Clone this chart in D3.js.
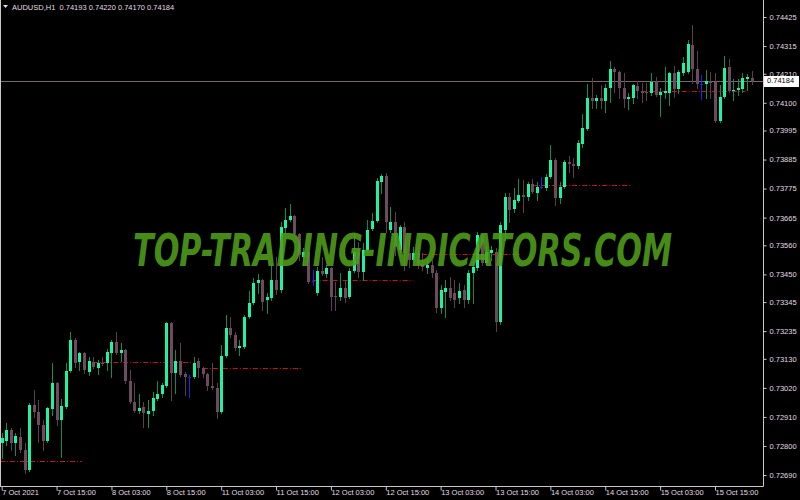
<!DOCTYPE html>
<html>
<head>
<meta charset="utf-8">
<script src="https://cdn.jsdelivr.net/npm/d3@7/dist/d3.min.js"></script>
<style>
html,body{margin:0;padding:0;background:#000;}
svg{display:block;}
</style>
</head>
<body>
<svg id="chart" width="800" height="500"></svg>
<script>
// ---------------- DATA ----------------
const symbol = "AUDUSD,H1";
const timeLabels = ["7 Oct 2021","7 Oct 15:00","8 Oct 03:00","8 Oct 15:00","11 Oct 03:00","11 Oct 15:00","12 Oct 03:00","12 Oct 15:00","13 Oct 03:00","13 Oct 15:00","14 Oct 03:00","14 Oct 15:00","15 Oct 03:00","15 Oct 15:00"];
const timeLabelBars = [0,12,24,36,48,60,72,84,96,108,120,132,144,156];
const priceTickLabels = ["0.74425","0.74315","0.74210","0.74100","0.73995","0.73885","0.73775","0.73665","0.73560","0.73450","0.73345","0.73235","0.73130","0.73020","0.72910","0.72800","0.72690"];

const opens = [0.72811,0.72819,0.72861,0.72811,0.72834,0.72785,0.72709,0.72955,0.72929,0.72880,
0.72819,0.72940,0.73039,0.72898,0.72948,0.73084,0.73202,0.73118,0.73152,0.73080,
0.73118,0.73095,0.73114,0.73114,0.73152,0.73194,0.73152,0.73164,0.73046,0.72967,
0.72933,0.72948,0.72921,0.72933,0.72978,0.72997,0.73027,0.73266,0.73076,0.73122,
0.73073,0.73061,0.73061,0.73122,0.73095,0.73073,0.73027,0.73020,0.72929,0.73141,
0.73247,0.73221,0.73171,0.73175,0.73289,0.73342,0.73417,0.73429,0.73353,0.73361,
0.73429,0.73391,0.73626,0.73656,0.73671,0.73603,0.73516,0.73535,0.73425,0.73380,
0.73463,0.73452,0.73474,0.73368,0.73364,0.73399,0.73364,0.73463,0.73535,0.73459,
0.73542,0.73622,0.73652,0.73800,0.73823,0.73618,0.73648,0.73542,0.73629,0.73531,
0.73505,0.73531,0.73489,0.73474,0.73486,0.73455,0.73323,0.73383,0.73399,0.73380,
0.73361,0.73391,0.73353,0.73455,0.73474,0.73599,0.73493,0.73531,0.73535,0.73270,
0.73618,0.73743,0.73698,0.73728,0.73751,0.73743,0.73792,0.73758,0.73781,0.73777,
0.73819,0.73883,0.73739,0.73781,0.73876,0.73868,0.73861,0.73944,0.74001,0.74118,
0.74107,0.74118,0.74107,0.74156,0.74228,0.74217,0.74156,0.74114,0.74118,0.74164,
0.74145,0.74141,0.74137,0.74179,0.74130,0.74137,0.74137,0.74213,0.74152,0.74213,
0.74217,0.74319,0.74228,0.74171,0.74171,0.74183,0.74179,0.74031,0.74122,0.74236,
0.74145,0.74148,0.74152,0.74190,0.74193];

const highs = [0.72849,0.72887,0.72868,0.72849,0.72868,0.72811,0.72963,0.73012,0.72974,0.72898,
0.72948,0.73114,0.73042,0.72978,0.73114,0.73232,0.73209,0.73156,0.73156,0.73137,
0.73137,0.73126,0.73137,0.73167,0.73202,0.73232,0.73190,0.73167,0.73088,0.73039,
0.72997,0.72967,0.72974,0.73005,0.73046,0.73039,0.73270,0.73270,0.73164,0.73190,
0.73080,0.73069,0.73137,0.73133,0.73099,0.73076,0.73114,0.73039,0.73183,0.73296,
0.73289,0.73232,0.73202,0.73296,0.73387,0.73436,0.73452,0.73433,0.73380,0.73486,
0.73516,0.73648,0.73701,0.73717,0.73675,0.73607,0.73550,0.73542,0.73467,0.73478,
0.73516,0.73486,0.73478,0.73421,0.73455,0.73429,0.73474,0.73607,0.73573,0.73569,
0.73656,0.73683,0.73815,0.73830,0.73834,0.73705,0.73686,0.73637,0.73648,0.73580,
0.73554,0.73561,0.73531,0.73505,0.73505,0.73467,0.73410,0.73429,0.73440,0.73429,
0.73417,0.73410,0.73467,0.73512,0.73611,0.73607,0.73554,0.73558,0.73550,0.73648,
0.73758,0.73758,0.73777,0.73811,0.73808,0.73800,0.73811,0.73800,0.73819,0.73830,
0.73940,0.73891,0.73800,0.73883,0.73898,0.73891,0.73959,0.74058,0.74171,0.74194,
0.74130,0.74167,0.74171,0.74258,0.74236,0.74220,0.74213,0.74137,0.74171,0.74183,
0.74175,0.74175,0.74213,0.74198,0.74156,0.74236,0.74217,0.74239,0.74224,0.74273,
0.74338,0.74395,0.74296,0.74205,0.74224,0.74217,0.74213,0.74167,0.74277,0.74266,
0.74190,0.74190,0.74213,0.74209,0.74220];

const lows = [0.72755,0.72804,0.72785,0.72766,0.72777,0.72698,0.72705,0.72910,0.72815,0.72785,
0.72815,0.72917,0.72880,0.72758,0.72944,0.73080,0.73099,0.73088,0.73076,0.73069,
0.73095,0.73073,0.73107,0.73088,0.73061,0.73148,0.73122,0.73039,0.72963,0.72929,
0.72925,0.72872,0.72872,0.72917,0.72974,0.72986,0.73024,0.72974,0.73001,0.73065,
0.72993,0.72986,0.73058,0.73061,0.73061,0.73012,0.73016,0.72906,0.72925,0.73137,
0.73213,0.73164,0.73145,0.73171,0.73285,0.73338,0.73380,0.73315,0.73304,0.73353,
0.73376,0.73383,0.73607,0.73652,0.73599,0.73505,0.73486,0.73417,0.73410,0.73372,
0.73448,0.73440,0.73315,0.73315,0.73353,0.73345,0.73361,0.73459,0.73440,0.73429,
0.73535,0.73618,0.73648,0.73758,0.73611,0.73611,0.73524,0.73535,0.73467,0.73478,
0.73497,0.73474,0.73467,0.73455,0.73440,0.73307,0.73304,0.73289,0.73353,0.73326,
0.73342,0.73326,0.73342,0.73342,0.73467,0.73486,0.73486,0.73505,0.73236,0.73262,
0.73580,0.73648,0.73686,0.73724,0.73686,0.73732,0.73758,0.73732,0.73777,0.73770,
0.73815,0.73713,0.73720,0.73777,0.73838,0.73819,0.73853,0.73933,0.73997,0.74080,
0.74080,0.74080,0.74065,0.74103,0.74141,0.74118,0.74084,0.74077,0.74099,0.74118,
0.74103,0.74111,0.74130,0.74126,0.74050,0.74118,0.74092,0.74122,0.74137,0.74205,
0.74213,0.74175,0.74156,0.74114,0.74118,0.74118,0.74027,0.74027,0.74118,0.74141,
0.74111,0.74130,0.74141,0.74148,0.74170];

const closes = [0.72830,0.72861,0.72811,0.72838,0.72785,0.72709,0.72955,0.72929,0.72880,0.72819,
0.72944,0.73039,0.72898,0.72952,0.73084,0.73202,0.73114,0.73152,0.73088,0.73122,
0.73099,0.73114,0.73111,0.73156,0.73194,0.73152,0.73164,0.73046,0.72967,0.72933,
0.72944,0.72925,0.72933,0.72982,0.72997,0.73031,0.73266,0.73076,0.73122,0.73069,
0.73061,0.73061,0.73114,0.73095,0.73073,0.73027,0.73020,0.72929,0.73141,0.73247,
0.73221,0.73171,0.73179,0.73289,0.73342,0.73417,0.73429,0.73345,0.73364,0.73429,
0.73391,0.73629,0.73656,0.73671,0.73603,0.73524,0.73535,0.73421,0.73425,0.73463,
0.73452,0.73474,0.73364,0.73364,0.73399,0.73361,0.73463,0.73535,0.73459,0.73542,
0.73618,0.73652,0.73804,0.73823,0.73648,0.73648,0.73554,0.73629,0.73531,0.73505,
0.73531,0.73489,0.73478,0.73486,0.73455,0.73323,0.73391,0.73399,0.73361,0.73353,
0.73387,0.73353,0.73455,0.73478,0.73599,0.73493,0.73535,0.73542,0.73270,0.73637,
0.73743,0.73694,0.73732,0.73751,0.73743,0.73792,0.73762,0.73781,0.73781,0.73819,
0.73883,0.73739,0.73781,0.73876,0.73868,0.73861,0.73948,0.74005,0.74118,0.74107,
0.74118,0.74107,0.74156,0.74228,0.74217,0.74156,0.74114,0.74122,0.74167,0.74145,
0.74137,0.74137,0.74179,0.74130,0.74141,0.74145,0.74213,0.74152,0.74217,0.74251,
0.74323,0.74228,0.74171,0.74171,0.74183,0.74175,0.74031,0.74122,0.74232,0.74145,
0.74148,0.74156,0.74194,0.74198,0.74184];

// dash-dot indicator levels (price, first bar, last bar)
const levelPrices = [0.72743,0.73118,0.73097,0.73429,0.73526,0.73789,0.74145];
const levelStartBars = [-4,20,44,68,92,116,140];
const levelEndBars = [17.5,41.8,65.9,90,113.4,137.8,162.6];

const watermark = "TOP-TRADING-INDICATORS.COM";

// ---------------- DRAW ----------------
const svg = d3.select("#chart");
svg.append("rect").attr("width",800).attr("height",500).attr("fill","#000");

const plotRight = 763, plotBottom = 486;
const x = d3.scaleLinear().domain([0,156]).range([1.7,715]);
const y = d3.scaleLinear().domain([0.72690,0.74425]).range([475,17]);

const FONT = "'Liberation Sans', Arial, sans-serif";
const TXT = "#e2dde2";

// bid line
const last = closes.length-1;
svg.append("line")
  .attr("x1",0).attr("x2",plotRight)
  .attr("y1",Math.round(y(closes[last]))+0.5).attr("y2",Math.round(y(closes[last]))+0.5)
  .attr("stroke","#7a666e").attr("stroke-width",1);

// dash-dot levels
const lv = svg.append("g");
levelPrices.forEach((p,k)=>{
  const yy = Math.round(y(p))+0.5;
  lv.append("line")
    .attr("x1",Math.max(0,x(levelStartBars[k]))).attr("x2",x(levelEndBars[k]))
    .attr("y1",yy).attr("y2",yy)
    .attr("stroke","#c41414").attr("stroke-width",1)
    .attr("stroke-dasharray","5,2,1,2");
});

// candles
const idx = d3.range(opens.length);
const cg = svg.append("g");
idx.forEach(i=>{
  const cx = Math.round(x(i));
  const o=opens[i], c=closes[i], h=highs[i], l=lows[i];
  const doji = o===c;
  const bull = c>o;
  const wickCol = doji ? "#2424e0" : (bull ? "#0f8a5c" : "#5c3e50");
  const bodyCol = doji ? "#2424e0" : (bull ? "#1ef2a4" : "#6c4b5e");
  cg.append("line")
    .attr("x1",cx+0.5).attr("x2",cx+0.5)
    .attr("y1",Math.round(y(h))).attr("y2",Math.round(y(l))+1)
    .attr("stroke",wickCol).attr("stroke-width",1);
  const yt = Math.round(y(Math.max(o,c)));
  const yb = Math.round(y(Math.min(o,c)));
  cg.append("rect").attr("x",cx-1).attr("y",yt).attr("width",3)
    .attr("height",doji?1:Math.max(1,yb-yt)).attr("fill",bodyCol);
});

// watermark (over candles, slightly translucent); small font stretched vertically
svg.append("text")
  .attr("transform","translate(133,266) scale(1,1.6)")
  .attr("x",0).attr("y",0)
  .attr("textLength",539).attr("lengthAdjust","spacingAndGlyphs")
  .attr("font-family","'DejaVu Sans', sans-serif")
  .attr("font-weight","bold").attr("font-style","italic")
  .attr("font-size",28)
  .attr("fill","#4f9f1a").attr("fill-opacity",0.9)
  .text(watermark);

// frame
const frame = svg.append("g").attr("stroke","#c8c8c8").attr("stroke-width",1);
frame.append("line").attr("x1",0.5).attr("x2",0.5).attr("y1",0).attr("y2",plotBottom+0.5);
frame.append("line").attr("x1",0).attr("x2",plotRight+0.5).attr("y1",plotBottom+0.5).attr("y2",plotBottom+0.5);
frame.append("line").attr("x1",plotRight+0.5).attr("x2",plotRight+0.5).attr("y1",0).attr("y2",plotBottom+0.5);

// right price axis
const priceTickValues = priceTickLabels.map(Number);
const ya = svg.append("g").attr("transform",`translate(${plotRight+0.5},0)`)
  .call(d3.axisRight(y).tickValues(priceTickValues).tickSize(3).tickPadding(3)
    .tickFormat((d,i)=>priceTickLabels[i]));
ya.select(".domain").remove();
ya.selectAll(".tick line").attr("stroke","#c8c8c8");
ya.selectAll(".tick text").attr("fill",TXT).attr("font-family",FONT).attr("font-size",7.5);

// bottom time axis
const xa = svg.append("g").attr("transform",`translate(0,${plotBottom+0.5})`)
  .call(d3.axisBottom(x).tickValues(timeLabelBars).tickSize(4)
    .tickFormat((d,i)=>timeLabels[i]));
xa.select(".domain").remove();
xa.selectAll(".tick line").attr("stroke","#c8c8c8");
xa.selectAll(".tick text").attr("fill",TXT).attr("font-family",FONT).attr("font-size",7.5)
  .attr("text-anchor","start").attr("x",0).attr("y",3).attr("dy","0.71em");

// current price box
const ly = y(closes[last]);
svg.append("rect").attr("x",plotRight+1).attr("y",Math.round(ly)-5).attr("width",35).attr("height",11).attr("fill","#ffffff");
svg.append("text").attr("x",plotRight+4).attr("y",ly).attr("dy","0.35em")
  .attr("font-family",FONT).attr("font-size",7.5).attr("fill","#000").text(closes[last].toFixed(5));

// header
svg.append("path").attr("d","M3,5 L8,5 L5.5,8 Z").attr("fill","#e0e0e0");
svg.append("text").attr("x",12).attr("y",10)
  .attr("font-family",FONT).attr("font-size",7.5).attr("fill",TXT)
  .attr("xml:space","preserve")
  .text(`${symbol}  ${opens[last].toFixed(5)} ${highs[last].toFixed(5)} ${lows[last].toFixed(5)} ${closes[last].toFixed(5)}`);
</script>
</body>
</html>
